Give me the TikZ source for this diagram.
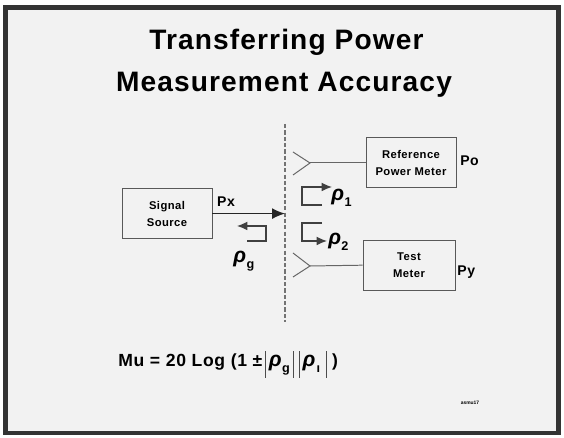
\documentclass[tikz,border=0pt]{standalone}
\usepackage{fontspec}
\setmainfont{Liberation Sans}
\newfontfamily\slidefont[LetterSpace=4]{Liberation Sans}
\usetikzlibrary{positioning,arrows.meta}

% reflection coefficient with its index
\newcommand{\rh}[1]{{\itshape ρ}\kern0.3pt\raisebox{-0.5ex}{\fontsize{9}{9}\selectfont #1}}
\newcommand{\magbar}{\kern2pt{\color{black!70}\rule[-7.5pt]{0.6pt}{19pt}}\kern2pt}

\begin{document}
\begin{tikzpicture}[>={Latex[length=3.2mm,width=2.7mm]},scale=1.0,
  box/.style={draw=black!65,line width=0.7pt,minimum width=2.25cm,minimum height=1.25cm,
    align=center,inner sep=1pt,font=\slidefont\fontsize{8}{12}\selectfont\bfseries},
  lbl/.style={font=\slidefont\fontsize{10}{10}\selectfont\bfseries,anchor=west,inner sep=0pt},
  rho/.style={font=\fontsize{15}{15}\selectfont\bfseries,anchor=west,inner sep=0pt},
  wire/.style={draw=black!60,line width=0.7pt},
  tap/.style={draw=black!75,line width=0.8pt,-{Latex[length=2.6mm,width=2.2mm]}}]

  \useasboundingbox (0,0) rectangle (14.1,10.95);
  \draw[fill=black!5,draw=black!80,line width=3.5pt](0.14,0.125) rectangle (13.96,10.76);

  % title
  \node[font=\slidefont\fontsize{20}{20}\selectfont\bfseries,anchor=base] (title1) at (7.16,9.7) {Transferring Power};
  \node[font=\slidefont\fontsize{20}{20}\selectfont\bfseries,anchor=base] (title2) at (7.1,8.65) {Measurement Accuracy};

  % reference plane
  \coordinate (cuttop) at (7.125,7.85);
  \coordinate (cutbot) at (7.125,2.9);
  \draw[black!55,line width=0.9pt,dash pattern=on 3pt off 1.5pt](cuttop)--(cutbot);

  % source side
  \node[box] (source) at (4.175,5.61) {Signal\\Source};
  \node[lbl] (px) at (5.42,5.91) {Px};
  \draw[->,black!85,line width=1pt](source.east)--(source.east -| cuttop);
  \draw[tap](6.175,4.925)--(6.65,4.925)|-(5.925,5.3);
  \node[rho] (rhog) at (5.83,4.42) {\rh{g}};

  % meters
  \node[box] (ref) at (10.275,6.875) {Reference\\Power Meter};
  \node[box,minimum width=2.3cm] (test) at (10.225,4.32) {Test\\Meter};
  \node[lbl] (po) at (11.5,6.92) {Po};
  \node[lbl] (py) at (11.43,4.15) {Py};

  \coordinate (reftip) at (7.75,6.875);
  \coordinate (testtip) at (7.75,4.3);
  \draw[wire](reftip)--(ref.west);
  \draw[wire](reftip)++(-0.425,0.275)--(reftip)--++(-0.425,-0.3);
  \draw[wire](testtip)--(test.west);
  \draw[wire](testtip)++(-0.425,0.325)--(testtip)--++(-0.425,-0.275);

  % reflections at the meters
  \draw[tap](8.05,5.825)-|(7.55,6.275)--(8.3,6.275);
  \draw[tap](8.05,5.375)-|(7.55,4.925)--(8.175,4.925);
  \node[rho] (rho1) at (8.28,6.0) {\rh{1}};
  \node[rho] (rho2) at (8.2,4.9) {\rh{2}};

  % mismatch uncertainty
  \node[anchor=base west,inner sep=0pt,font=\slidefont\fontsize{12.5}{12.5}\selectfont\bfseries] (mu) at (2.95,1.775)
    {Mu = 20 Log (1 ±\magbar{\fontsize{15}{15}\selectfont\rh{g}}\magbar\magbar{\fontsize{15}{15}\selectfont\rh{\kern0.5pt ı}}\kern2pt\magbar\kern2pt)};

  \node[font=\fontsize{3.5}{4}\selectfont\bfseries] (stamp) at (11.75,0.875) {asmu17};
\end{tikzpicture}
\end{document}
